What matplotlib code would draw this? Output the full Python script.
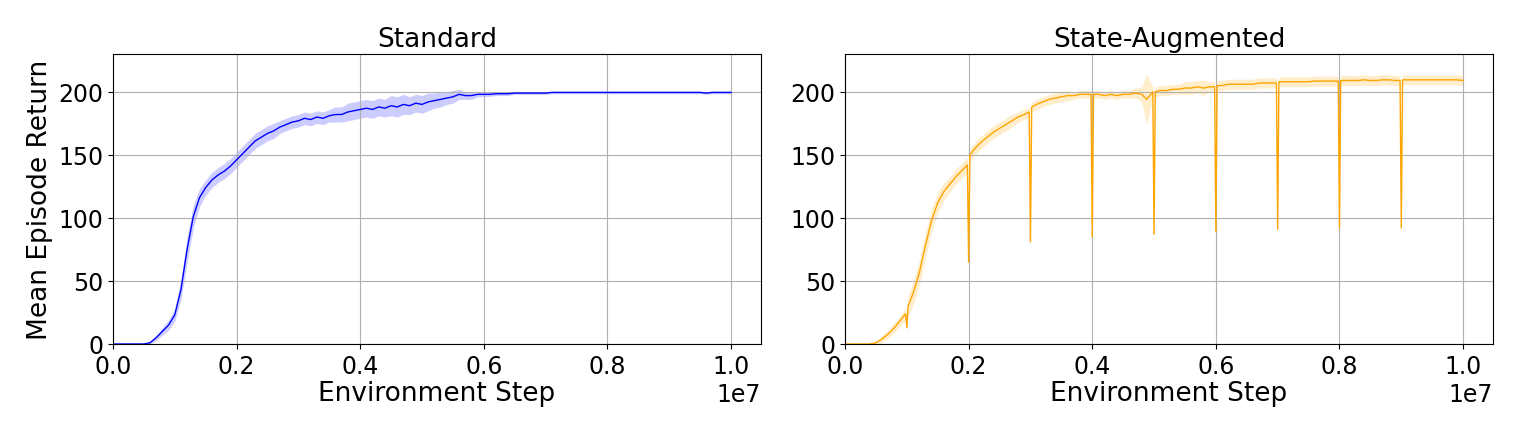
import numpy as np
import matplotlib
matplotlib.use('Agg')
import matplotlib.pyplot as plt

# Standard run: mean return every 0.1e6 steps
std_steps = np.arange(0, 101) * 1e5
std_mean = [0, 0, 0, 0, 0, 0, 1, 5, 10, 15,
            23, 43, 75, 101, 116, 124, 130, 134, 137, 141,
            146, 151, 156, 161, 164, 167, 169, 172, 174, 176,
            177, 179, 178, 180, 179, 181, 182, 182, 184, 185,
            186, 187, 186, 188, 187, 189, 188, 190, 189, 191,
            190, 192, 193, 194, 195, 196, 198, 197, 197, 198,
            198, 198, 198.5, 198.5, 198.5, 199, 199, 199, 199, 199,
            199, 199.5, 199.5, 199.5, 199.5, 199.5, 199.5, 199.5, 199.5, 199.5,
            199.5, 199.5, 199.5, 199.5, 199.5, 199.5, 199.5, 199.5, 199.5, 199.5,
            199.5, 199.5, 199.5, 199.5, 199.5, 199.5, 199, 199.5, 199.5, 199.5,
            199.5]
std_band = [0, 0, 0, 0, 0, 0, 1, 2, 3, 4,
            5, 8, 10, 9, 7, 6, 6, 6, 6, 6,
            6, 6, 6, 6, 6, 6, 6, 5, 5, 5,
            5, 5, 5, 5, 5, 5, 6, 6, 7, 7,
            7, 7, 7, 7, 7, 8, 8, 8, 7, 7,
            7, 7, 6, 6, 5, 5, 4, 3, 3, 2,
            2, 1.5, 1.5, 1.5, 1.5, 1, 1, 1, 1, 1,
            1, 1, 1, 1, 1, 1, 1, 1, 1, 1,
            1, 1, 1, 1, 1, 1, 1, 1, 1, 1,
            1, 1, 1, 1, 1, 1, 1, 1, 1, 1,
            1]

# State-augmented run: steps in millions, with the short drops at every 1e6
aug_steps_m = [0.0, 0.1, 0.2, 0.3, 0.4, 0.5, 0.6, 0.7, 0.8, 0.9, 0.98,
               1.0, 1.02, 1.1, 1.2, 1.3, 1.4, 1.5, 1.6, 1.7, 1.8, 1.9, 1.98,
               2.0, 2.02, 2.1, 2.2, 2.3, 2.4, 2.5, 2.6, 2.7, 2.8, 2.9, 2.98,
               3.0, 3.02, 3.1, 3.2, 3.3, 3.4, 3.5, 3.6, 3.7, 3.8, 3.9, 3.98,
               4.0, 4.02, 4.1, 4.2, 4.3, 4.4, 4.5, 4.6, 4.7, 4.8, 4.88, 4.98,
               5.0, 5.02, 5.1, 5.2, 5.3, 5.4, 5.5, 5.6, 5.7, 5.8, 5.9, 5.98,
               6.0, 6.02, 6.1, 6.2, 6.3, 6.4, 6.5, 6.6, 6.7, 6.8, 6.9, 6.98,
               7.0, 7.02, 7.1, 7.2, 7.3, 7.4, 7.5, 7.6, 7.7, 7.8, 7.9, 7.98,
               8.0, 8.02, 8.1, 8.2, 8.3, 8.4, 8.5, 8.6, 8.7, 8.8, 8.9, 8.98,
               9.0, 9.02, 9.1, 9.2, 9.3, 9.4, 9.5, 9.6, 9.7, 9.8, 9.9, 10.0]
aug_mean = [0, 0, 0, 0, 0, 1, 4, 8, 13, 19, 24,
            13, 30, 40, 56, 78, 98, 112, 121, 127, 133, 138, 142,
            65, 150, 155, 160, 164, 168, 171, 174, 177, 180, 182, 184,
            81, 188, 190, 192, 194, 195, 196, 197, 197, 198, 198, 198,
            85, 198, 198, 197, 198, 197, 198, 198, 199, 198, 194, 200,
            87, 200, 201, 201, 202, 202, 203, 203, 204, 203, 204, 204,
            89, 205, 205, 206, 206, 206, 206, 206, 207, 207, 207, 207,
            91, 208, 208, 208, 208, 208, 208, 208.5, 208.5, 208.5, 208.5, 208.5,
            92, 209, 209, 209, 209, 209.5, 209, 209, 209.5, 209.5, 209, 209,
            92, 209.5, 209.5, 209.5, 209.5, 209.5, 209.5, 209.5, 209.5, 209.5, 209.5, 209]
aug_band = [0, 0, 0, 0, 0, 1, 3, 3, 4, 4, 5,
            3, 8, 9, 10, 10, 9, 8, 7, 6, 6, 6, 6,
            2, 5, 5, 5, 5, 5, 5, 5, 5, 4, 4, 4,
            2, 4, 4, 4, 4, 4, 4, 4, 3, 3, 3, 3,
            2, 3, 3, 3, 3, 3, 3, 3, 4, 6, 20, 4,
            2, 4, 4, 4, 4, 4, 5, 5, 5, 6, 4, 4,
            2, 4, 4, 4, 4, 4, 4, 4, 4, 4, 4, 4,
            2, 4, 4, 4, 4, 4, 4, 4, 4, 4, 4, 4,
            2, 4, 4, 4, 4, 4, 4, 4, 4, 4, 4, 4,
            2, 4, 4, 4, 4, 4, 4, 4, 4, 4, 4, 4]

aug_steps = np.array(aug_steps_m) * 1e6

fig = plt.figure(figsize=(15.22, 4.35), dpi=100)
ax1 = fig.add_axes([0.0742, 0.2069, 0.4258, 0.6667])
ax2 = fig.add_axes([0.5552, 0.2069, 0.4258, 0.6667])

panels = [(ax1, std_steps, std_mean, std_band, 'blue', 'Standard'),
          (ax2, aug_steps, aug_mean, aug_band, 'orange', 'State-Augmented')]

for ax, x, m, b, c, title in panels:
    m = np.array(m, dtype=float)
    b = np.array(b, dtype=float)
    ax.plot(x, m, color=c, linewidth=1)
    ax.fill_between(x, m - b, m + b, color=c, alpha=0.2, linewidth=0)
    ax.set_xlim(0, 1.0485e7)
    ax.set_ylim(0, 230)
    ax.set_yticks([0, 50, 100, 150, 200])
    ax.grid(True)
    ax.set_title(title, fontsize=19)
    ax.set_xlabel('Environment Step', fontsize=19, labelpad=2)
    ax.tick_params(labelsize=17)
    ax.xaxis.get_offset_text().set_fontsize(17)

ax1.set_ylabel('Mean Episode Return', fontsize=19)

fig.savefig('out.png', dpi=100)
